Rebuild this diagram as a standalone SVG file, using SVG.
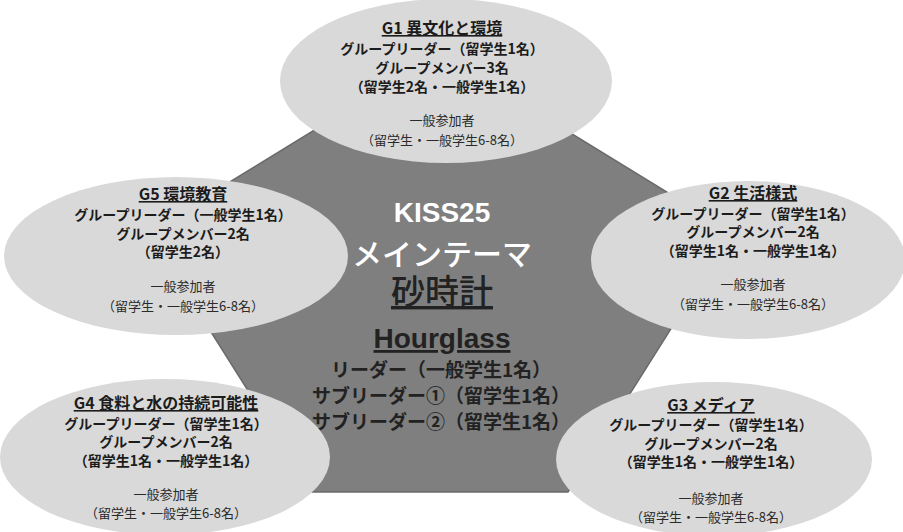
<svg xmlns="http://www.w3.org/2000/svg" width="903" height="532" viewBox="0 0 903 532">
<style>
text{font-family:"Noto Sans CJK JP","Noto Sans",sans-serif;text-anchor:middle;fill:#1c1c1c}
.ell{fill:#d9d9d9}
.t{font-size:16px;font-weight:700;text-decoration:underline}
.b{font-size:14px;font-weight:700}
.n{font-size:13px;font-weight:400;fill:#2a2a2a}
.w{fill:#ffffff}
.c{font-size:19px;font-weight:700;fill:#222}
</style>
<rect width="903" height="532" fill="#ffffff"/>
<g id="main">
<polygon points="440,53 732,232 568,492 312,492 148,232" fill="#7f7f7f" stroke="#6a6a6a" stroke-width="1.5"/>
</g>
<g id="connectors"/>
<g id="g1">
<ellipse class="ell" cx="446" cy="81" rx="166" ry="82"/>
<text class="t" x="442" y="34">G1 異文化と環境</text>
<text class="b" x="442" y="54">グループリーダー（留学生1名）</text>
<text class="b" x="442" y="73">グループメンバー3名</text>
<text class="b" x="442" y="92">（留学生2名・一般学生1名）</text>
<text class="n" x="442" y="125">一般参加者</text>
<text class="n" x="442" y="145">（留学生・一般学生6-8名）</text>
</g>
<g id="g5">
<ellipse class="ell" cx="176" cy="256" rx="172" ry="79"/>
<text class="t" x="183" y="200">G5 環境教育</text>
<text class="b" x="183" y="220">グループリーダー（一般学生1名）</text>
<text class="b" x="183" y="239">グループメンバー2名</text>
<text class="b" x="183" y="257">（留学生2名）</text>
<text class="n" x="183" y="291">一般参加者</text>
<text class="n" x="183" y="311">（留学生・一般学生6-8名）</text>
</g>
<g id="g2">
<ellipse class="ell" cx="748" cy="260" rx="157" ry="79"/>
<text class="t" x="753" y="199">G2 生活様式</text>
<text class="b" x="753" y="219">グループリーダー（留学生1名）</text>
<text class="b" x="753" y="237">グループメンバー2名</text>
<text class="b" x="753" y="256">（留学生1名・一般学生1名）</text>
<text class="n" x="753" y="289">一般参加者</text>
<text class="n" x="753" y="309">（留学生・一般学生6-8名）</text>
</g>
<g id="g4">
<ellipse class="ell" cx="165" cy="457" rx="165" ry="78"/>
<text class="t" x="166" y="409">G4 食料と水の持続可能性</text>
<text class="b" x="166" y="429">グループリーダー（留学生1名）</text>
<text class="b" x="166" y="447">グループメンバー2名</text>
<text class="b" x="166" y="466">（留学生1名・一般学生1名）</text>
<text class="n" x="166" y="499">一般参加者</text>
<text class="n" x="166" y="518">（留学生・一般学生6-8名）</text>
</g>
<g id="g3">
<ellipse class="ell" cx="714" cy="459" rx="158" ry="77"/>
<text class="t" x="711" y="411">G3 メディア</text>
<text class="b" x="711" y="430">グループリーダー（留学生1名）</text>
<text class="b" x="711" y="449">グループメンバー2名</text>
<text class="b" x="711" y="467">（留学生1名・一般学生1名）</text>
<text class="n" x="711" y="503">一般参加者</text>
<text class="n" x="711" y="522">（留学生・一般学生6-8名）</text>
</g>
<g id="main-label">
<text class="w" x="442" y="222" style="font-family:'Liberation Sans','Noto Sans',sans-serif;font-size:28px;font-weight:700">KISS25</text>
<text class="w" x="442" y="265" style="font-size:30px;font-weight:500">メインテーマ</text>
<text x="442" y="304" style="font-size:34px;font-weight:500;text-decoration:underline;fill:#222">砂時計</text>
<text x="442" y="348" style="font-family:'Liberation Sans','Noto Sans',sans-serif;font-size:28px;font-weight:700;text-decoration:underline;fill:#222">Hourglass</text>
<text class="c" x="441" y="377">リーダー（一般学生1名）</text>
<text class="c" x="441" y="403">サブリーダー①（留学生1名）</text>
<text class="c" x="441" y="429">サブリーダー②（留学生1名）</text>
</g>
</svg>
